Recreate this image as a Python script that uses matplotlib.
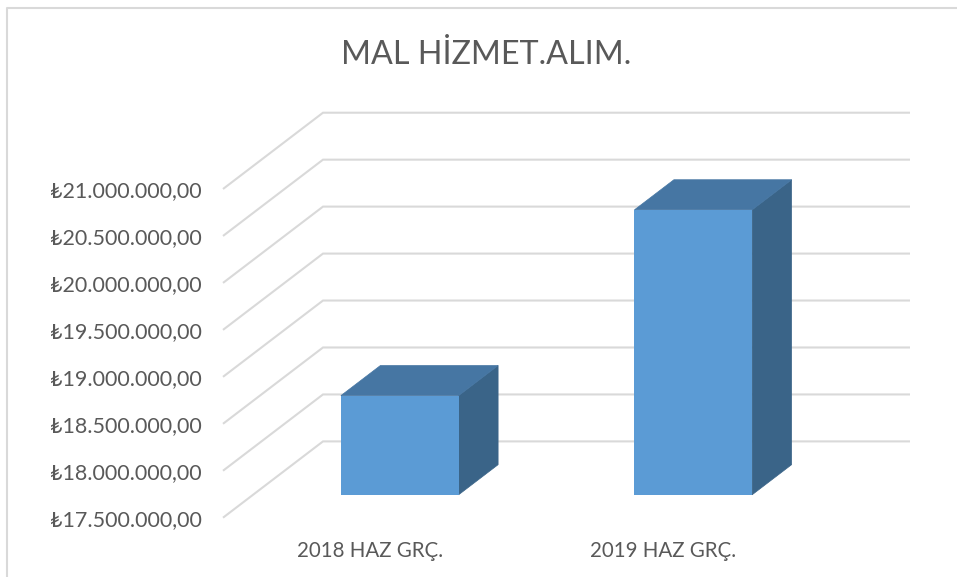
import matplotlib
matplotlib.use("Agg")
import matplotlib.pyplot as plt
from matplotlib.patches import Polygon
from matplotlib.lines import Line2D

categories = ["2018 HAZ GRÇ.", "2019 HAZ GRÇ."]
values = [18556000, 20534000]
ticks = [17500000, 18000000, 18500000, 19000000, 19500000, 20000000, 20500000, 21000000]
tick_labels = ["₺17.500.000,00", "₺18.000.000,00", "₺18.500.000,00", "₺19.000.000,00",
               "₺19.500.000,00", "₺20.000.000,00", "₺20.500.000,00", "₺21.000.000,00"]

plt.rcParams["font.family"] = ["Lato", "DejaVu Sans"]

W, H = 957, 577
TEXT = "#595959"
GRID = "#d9d9d9"

fig = plt.figure(figsize=(W / 100, H / 100), dpi=100)
fig.patch.set_facecolor("white")
# front plane of the fake 3d box, in pixels
left, right, top, bottom = 223, 810, 189, 517.7
ax = fig.add_axes([left / W, 1 - bottom / H, (right - left) / W, (bottom - top) / H])
ax.set_xlim(0, 2)
ax.set_ylim(17500000, 21000000)
ax.patch.set_visible(False)
for s in ax.spines.values():
    s.set_visible(False)

# how far one full unit of depth moves things
depth_x = 100 / (right - left) * 2
depth_y = 76.3 / (bottom - top) * 3500000


def proj(x, v, d):
    return (x + d * depth_x, v + d * depth_y)


# gridlines: diagonal on the floor side, flat on the back wall
for t in ticks:
    pts = [proj(0, t, 0), proj(0, t, 1), proj(2, t, 1)]
    ax.plot([p[0] for p in pts], [p[1] for p in pts], color=GRID, lw=1.5, clip_on=False,
            zorder=1, solid_joinstyle="miter", solid_capstyle="butt")

# bars
bar_w = 0.401
d0, d1 = 0.3, 0.695
base = ticks[0]
for i, val in enumerate(values):
    xc = i + 0.5
    x0, x1 = xc - bar_w / 2, xc + bar_w / 2
    ax.add_patch(Polygon([proj(x1, base, d0), proj(x1, base, d1), proj(x1, val, d1), proj(x1, val, d0)],
                         fc="#3a6488", ec="#3a6488", lw=0.5, zorder=3, clip_on=False))
    ax.add_patch(Polygon([proj(x0, val, d0), proj(x1, val, d0), proj(x1, val, d1), proj(x0, val, d1)],
                         fc="#4676a3", ec="#4676a3", lw=0.5, zorder=3, clip_on=False))
    ax.bar(x0 + d0 * depth_x, val - base, bar_w, bottom=base + d0 * depth_y, align="edge",
           color="#5b9bd5", zorder=4, clip_on=False)

ax.set_yticks(ticks)
ax.set_yticklabels(tick_labels)
ax.set_xticks([0.5, 1.5])
ax.set_xticklabels(categories)
ax.tick_params(axis="y", length=0, pad=15.5, labelsize=15.5, labelcolor=TEXT)
ax.tick_params(axis="x", length=0, pad=16.5, labelsize=14.8, labelcolor=TEXT)

fig.text(486.5 / W, 1 - 55 / H, "MAL HİZMET.ALIM.", fontsize=23.2, color=TEXT, ha="center", va="center")

# chart frame, only left and top show
fig.add_artist(Line2D([7 / W, 7 / W, 1], [0, 1 - 7.5 / H, 1 - 7.5 / H], color=GRID, lw=1.5))

fig.savefig("out.png", dpi=100)
